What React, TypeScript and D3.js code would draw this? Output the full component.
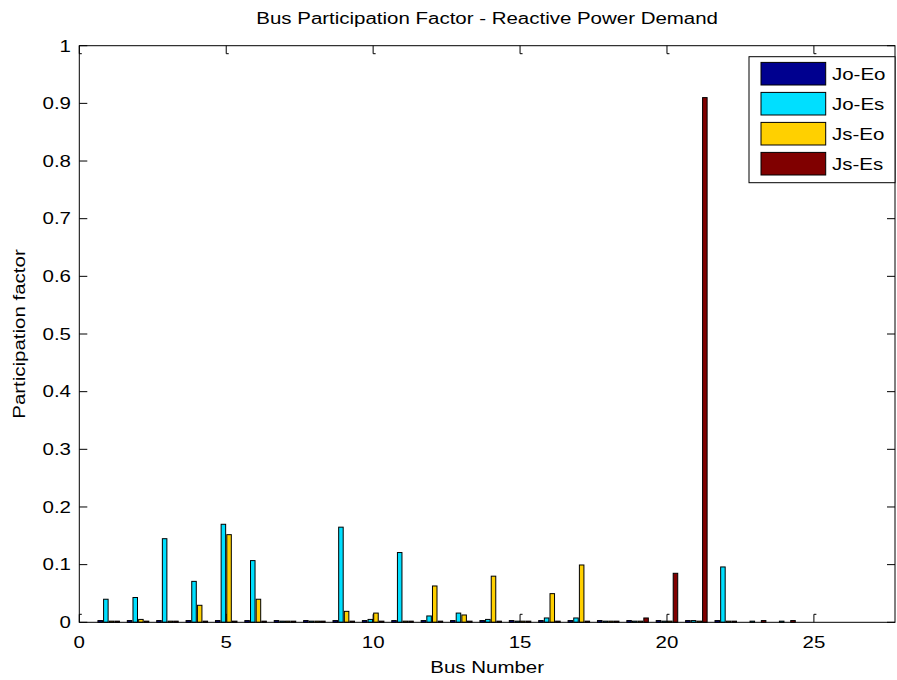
import React from "react";
import * as d3 from "d3";

// Bus numbers and participation factors of the four Jacobian / eigenvalue cases
const buses: number[] = d3.range(1, 28);
const seriesNames: string[] = ["Jo-Eo", "Jo-Es", "Js-Eo", "Js-Es"];
const seriesColors: string[] = ["#00008F", "#00DFFF", "#FFD000", "#800000"];

const joEo: number[] = [0.003, 0.003, 0.003, 0.003, 0.003, 0.003, 0.003, 0.003, 0.003, 0.003, 0.003, 0.003, 0.003, 0.003, 0.003, 0.003, 0.003, 0.003, 0.003, 0.003, 0.003, 0.003, 0, 0, 0, 0, 0];
const joEs: number[] = [0.040, 0.043, 0.145, 0.071, 0.170, 0.107, 0.002, 0.002, 0.165, 0.005, 0.121, 0.011, 0.016, 0.005, 0.002, 0.0075, 0.0075, 0.002, 0.002, 0.002, 0.003, 0.096, 0.002, 0.002, 0, 0, 0];
const jsEo: number[] = [0.002, 0.005, 0.002, 0.0295, 0.152, 0.040, 0.002, 0.002, 0.019, 0.016, 0.002, 0.063, 0.0127, 0.080, 0.002, 0.0497, 0.0994, 0.002, 0.002, 0.002, 0.002, 0.002, 0, 0, 0, 0, 0];
const jsEs: number[] = [0.002, 0.002, 0.002, 0.002, 0.002, 0.002, 0.002, 0.002, 0.002, 0.002, 0.002, 0.002, 0.002, 0.002, 0.002, 0.002, 0.002, 0.002, 0.0075, 0.085, 0.910, 0.002, 0.003, 0.003, 0, 0, 0];

const seriesValues: number[][] = [joEo, joEs, jsEo, jsEs];

const xTicks: number[] = [0, 5, 10, 15, 20, 25];
const yTicks: number[] = d3.range(0, 11).map((i) => i / 10);

const titleText = "Bus Participation Factor - Reactive Power Demand";
const xLabelText = "Bus Number";
const yLabelText = "Participation factor";

const W = 897;
const H = 680;
const left = 79.3;
const right = 895;
const top = 45.7;
const bottom = 622.3;
const FONT = "'Liberation Sans', Arial, Helvetica, sans-serif";
const SX = 1.28; // horizontal stretch of the figure's text

function Label(props: {
  x: number;
  y: number;
  anchor?: "start" | "middle" | "end";
  rotate?: number;
  children: React.ReactNode;
}) {
  const { x, y, anchor = "start", rotate, children } = props;
  const tr = `translate(${x},${y})${rotate ? ` rotate(${rotate})` : ""} scale(${SX},1)`;
  return (
    <text transform={tr} textAnchor={anchor} fontFamily={FONT} fontSize={16} fill="#000">
      {children}
    </text>
  );
}

export default function App() {
  const x = d3.scaleLinear().domain([0, 27.76]).range([left, right]);
  const y = d3.scaleLinear().domain([0, 1]).range([bottom, top]);
  const groupWidth = 0.77;
  const inner = d3
    .scaleBand<string>()
    .domain(seriesNames)
    .range([-groupWidth / 2, groupWidth / 2]);
  const barW = inner.bandwidth() * 0.8;
  const unit = x(1) - x(0);

  const legendX = 749;
  const legendY = 56.7;
  const legendW = right - legendX;
  const legendH = 126;
  const rowStart = 73.7;
  const rowStep = 30;

  return (
    <svg
      width={W}
      height={H}
      style={{ position: "absolute", left: 0, top: 0, background: "#fff" }}
    >
      <rect x={0} y={0} width={W} height={H} fill="#fff" />

      {/* bottom ticks sit beneath the bars */}
      {xTicks.map((t) => (
        <path
          key={`bt${t}`}
          d={`M${x(t)},${bottom} V${bottom - 8} h2.5`}
          fill="none"
          stroke="#000"
          strokeWidth={1}
        />
      ))}

      {/* grouped bars */}
      {seriesValues.map((vals, si) => (
        <g key={seriesNames[si]}>
          {buses.map((b, bi) => {
            const v = vals[bi];
            if (!v) return null;
            const cx = x(b) + (inner(seriesNames[si])! + inner.bandwidth() / 2) * unit;
            const w = barW * unit;
            const y0 = y(v);
            return (
              <rect
                key={b}
                x={cx - w / 2}
                y={y0}
                width={w}
                height={Math.max(bottom - y0, 0.5)}
                fill={seriesColors[si]}
                stroke="#000"
                strokeWidth={1}
              />
            );
          })}
        </g>
      ))}

      {/* axes box */}
      <rect x={left} y={top} width={right - left} height={bottom - top} fill="none" stroke="#000" strokeWidth={1} />

      {/* top ticks */}
      {xTicks.map((t) => (
        <path
          key={`tt${t}`}
          d={`M${x(t)},${top} V${top + 8} h2.5`}
          fill="none"
          stroke="#000"
          strokeWidth={1}
        />
      ))}

      {/* y ticks on both sides */}
      {yTicks.map((t) => (
        <g key={`yt${t}`}>
          <line x1={left} x2={left + 8} y1={y(t)} y2={y(t)} stroke="#000" strokeWidth={1} />
          <line x1={right} x2={right - 8} y1={y(t)} y2={y(t)} stroke="#000" strokeWidth={1} />
        </g>
      ))}

      {/* tick labels */}
      {yTicks.map((t) => (
        <Label key={`yl${t}`} x={71} y={y(t) + 5.8} anchor="end">
          {d3.format("")(Math.round(t * 10) / 10)}
        </Label>
      ))}
      {xTicks.map((t) => (
        <Label key={`xl${t}`} x={x(t)} y={648} anchor="middle">
          {t}
        </Label>
      ))}

      {/* titles */}
      <Label x={(left + right) / 2} y={24} anchor="middle">
        {titleText}
      </Label>
      <Label x={(left + right) / 2} y={673} anchor="middle">
        {xLabelText}
      </Label>
      <Label x={25} y={(top + bottom) / 2} anchor="middle" rotate={-90}>
        {yLabelText}
      </Label>

      {/* legend */}
      <rect x={legendX} y={legendY} width={legendW} height={legendH} fill="#fff" stroke="#000" strokeWidth={1} />
      {seriesNames.map((name, i) => {
        const cy = rowStart + i * rowStep;
        return (
          <g key={`lg${name}`}>
            <rect x={761} y={cy - 11.3} width={64.7} height={22.6} fill={seriesColors[i]} stroke="#000" strokeWidth={1} />
            <Label x={832} y={cy + 5.8}>
              {name}
            </Label>
          </g>
        );
      })}
    </svg>
  );
}
